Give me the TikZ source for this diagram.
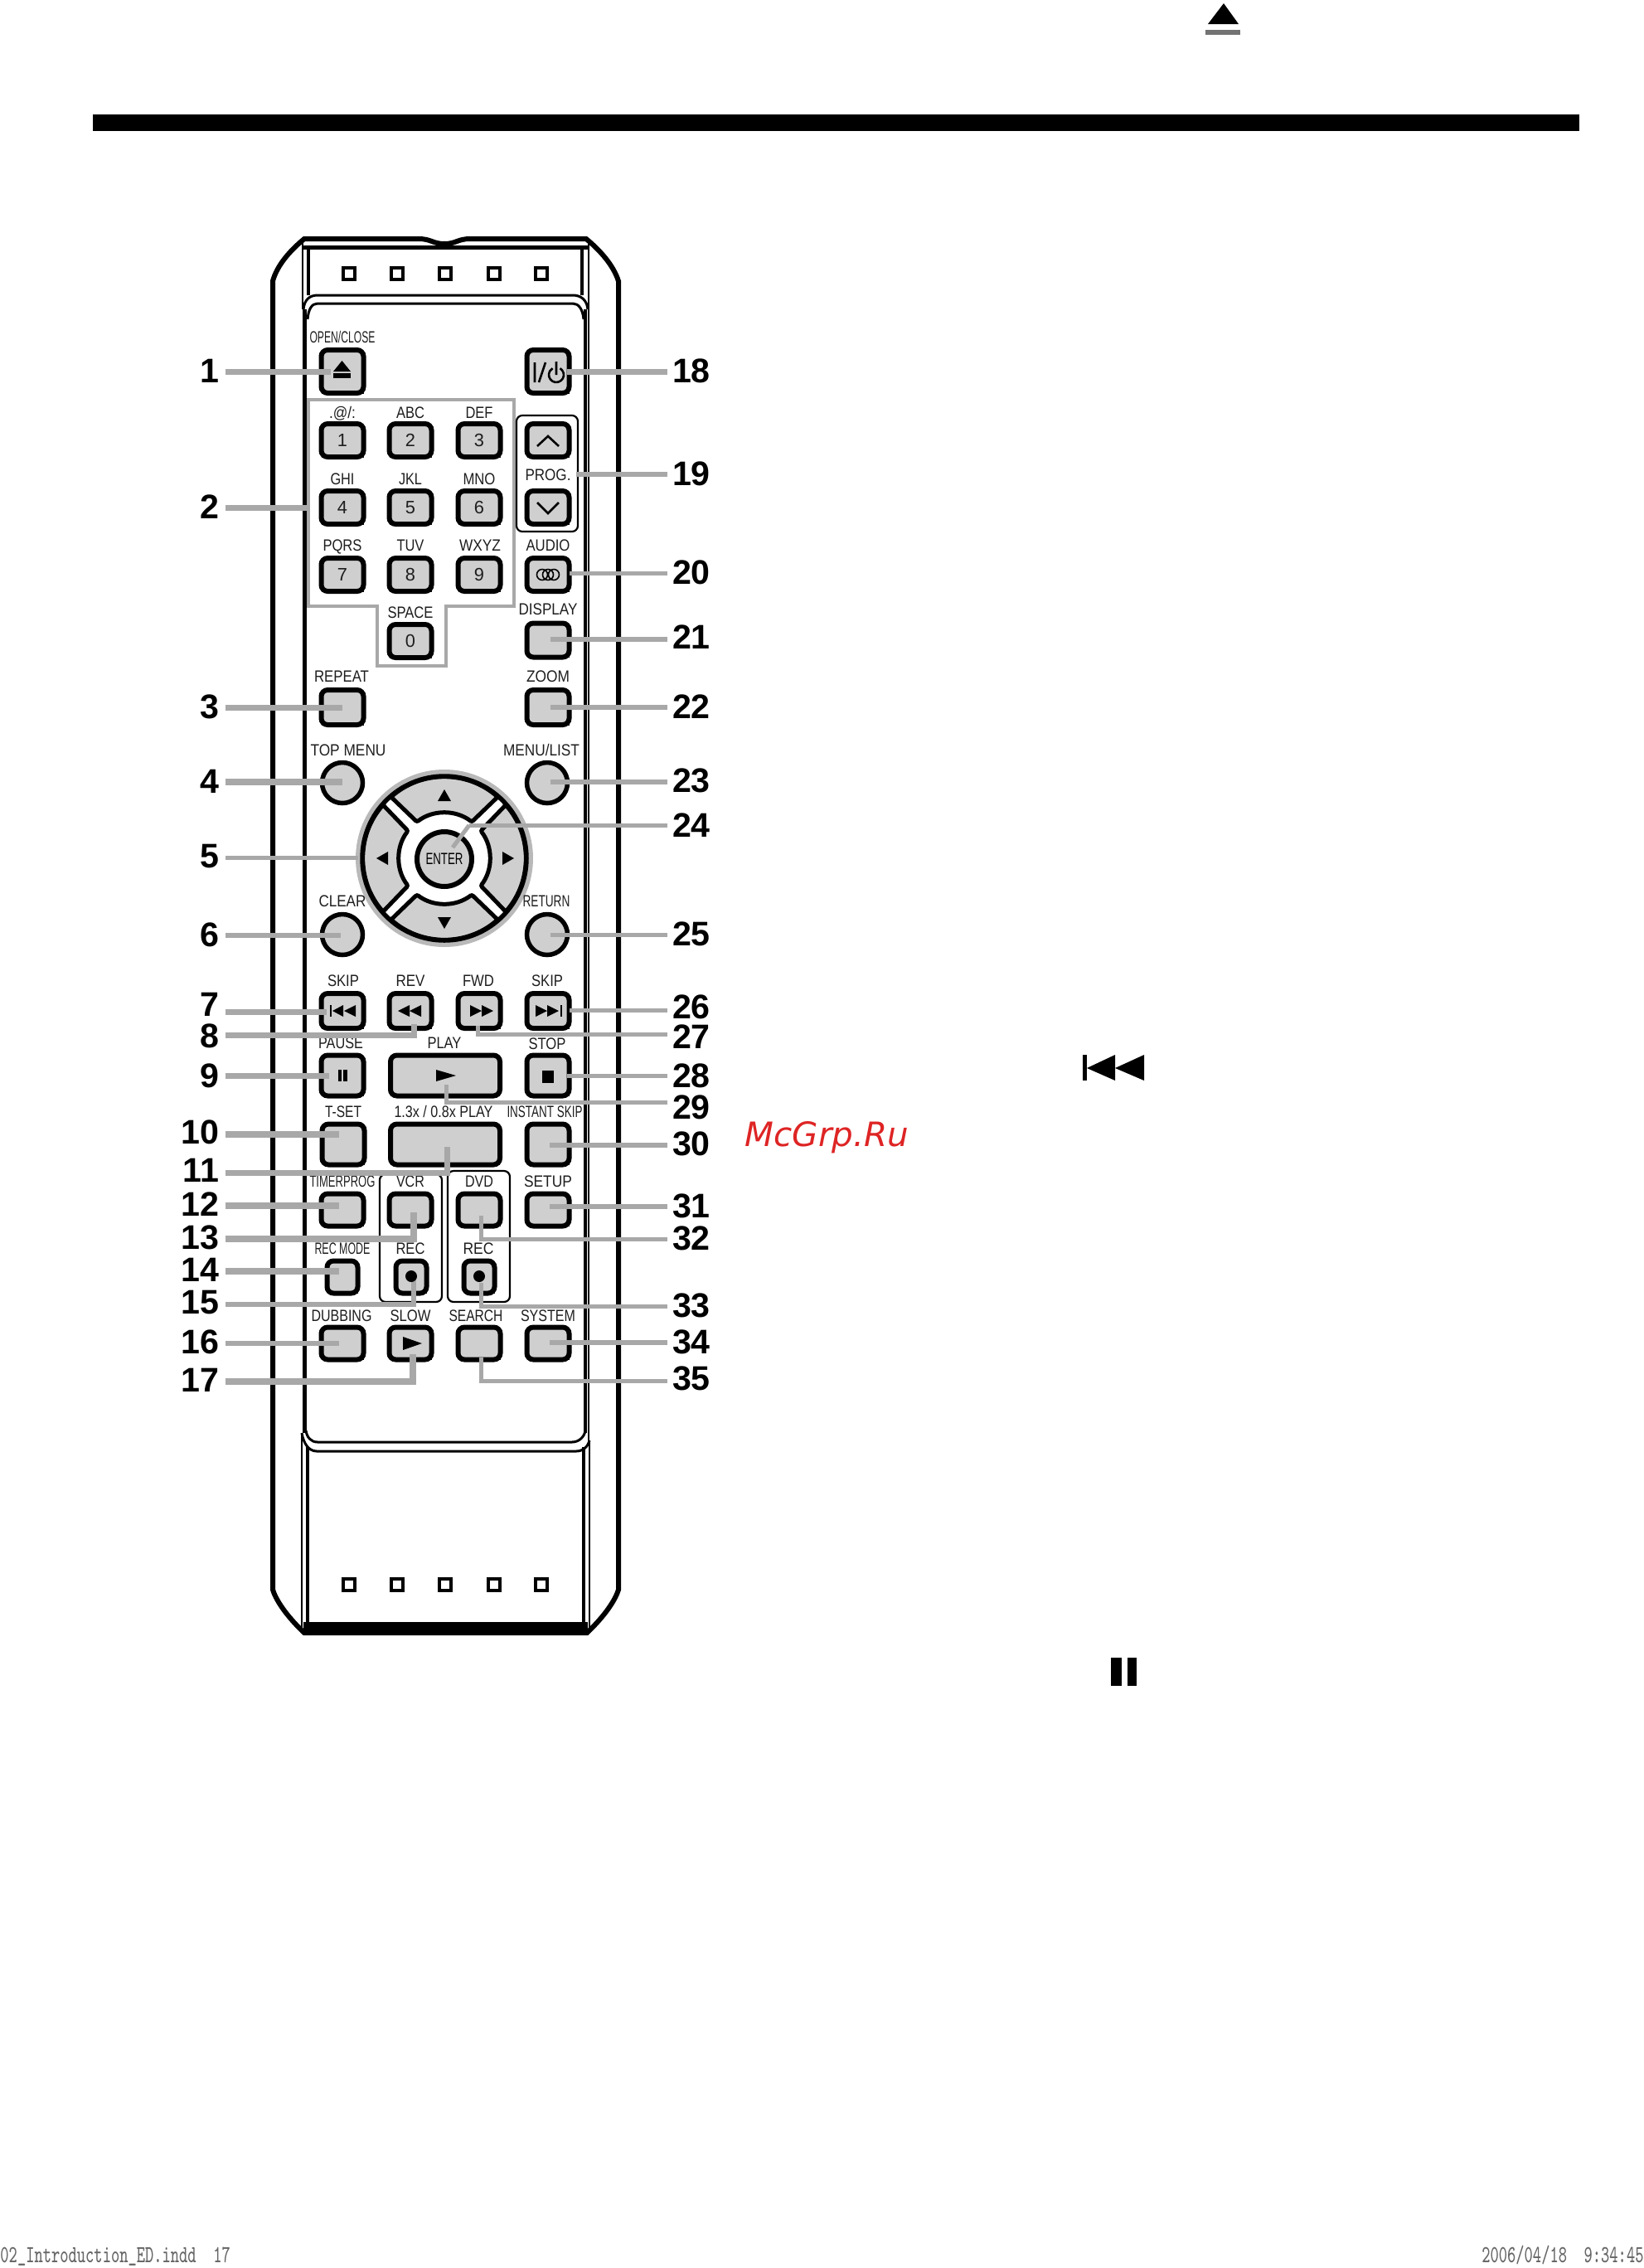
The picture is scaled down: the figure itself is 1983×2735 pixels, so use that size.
\documentclass[tikz,border=0pt]{standalone}
\usepackage{fontspec}
\setmainfont{Liberation Sans}
\newfontfamily\wmfont{DejaVu Sans}
\newdimen\unitpx
\unitpx=0.01cm
\definecolor{leadgray}{HTML}{A8A8A8}
\definecolor{keyface}{HTML}{CFCFD0}
\definecolor{textgray}{HTML}{1E1E1E}
\newcommand{\keytext}[2]{\resizebox{#1\unitpx}{13.5\unitpx}{\smash{#2}\vphantom{E}}}
\tikzset{
  shell/.style={draw=black,line width=6\unitpx},
  keybtn/.style={draw=black,fill=keyface,line width=6\unitpx,rounded corners=2.2pt,
    inner sep=0pt,text=textgray,font=\fontsize{6.2}{7}\selectfont},
  keyrim/.style={black,line width=3.5\unitpx},
  roundkey/.style={circle,draw=black,fill=keyface,line width=5.5\unitpx,
    minimum size=49\unitpx,inner sep=0pt},
  keylabel/.style={inner sep=0pt,text=textgray},
  thinbox/.style={draw=black,line width=2.2\unitpx,rounded corners=2pt},
  leader/.style={leadgray,line width=#1\unitpx},
  leader/.default=7,
  number/.style={inner sep=0pt,outer sep=6\unitpx,font=\fontsize{11.7}{13}\selectfont\bfseries},
  glyph/.style={fill=black},
  glyphline/.style={draw=black,line width=2.6\unitpx},
  led/.style={draw=black,fill=white,line width=3.8\unitpx,minimum size=13.5\unitpx,inner sep=0pt},
  footer/.style={inner sep=0pt,text=black!60,xscale=.655,transform shape,
    font=\fontsize{8.4}{10}\selectfont\ttfamily}
}
\begin{document}
\begin{tikzpicture}[x=0.01cm,y=-0.01cm]
  \useasboundingbox (0,0) rectangle (1983,2735);
  % Page furniture
  \fill[black] (112,138) rectangle (1905,158);
  \fill[glyph] (1476,4) -- (1494,29) -- (1457,29) -- cycle;
  \fill[black!55] (1454,36) rectangle (1496,42);
  \fill[glyph] (1306,1272) rectangle (1311,1303);
  \fill[glyph] (1311,1288) -- (1345,1272) -- (1345,1303) -- cycle;
  \fill[glyph] (1345,1288) -- (1380,1272) -- (1380,1303) -- cycle;
  \fill[glyph] (1340,1999) rectangle (1353,2033);
  \fill[glyph] (1360,1999) rectangle (1371,2033);
  \node[inner sep=0pt,anchor=base west,text={rgb,255:red,222;green,36;blue,36},
        font=\wmfont\itshape\fontsize{11.5}{13}\selectfont] (mcgrp) at (898,1382) {McGrp.Ru};
  \node[footer,anchor=base west] (slugleft) at (0,2728) {02\string_Introduction\string_ED.indd\ \ 17};
  \node[footer,anchor=base east] (slugright) at (1983,2728) {2006/04/18\ \ 9:34:45};
  % Draw remote body
  \draw[shell] (329,339) .. controls (334,320) and (350,302) .. (367,288)
        -- (505,288) .. controls (520,288) and (522,294) .. (536,294)
        .. controls (550,294) and (552,288) .. (567,288) -- (707,288)
        .. controls (724,302) and (740,320) .. (746,339) -- (746,1917)
        .. controls (741,1933) and (725,1953) .. (708,1969) -- (367,1969)
        .. controls (350,1953) and (334,1933) .. (329,1917) -- cycle;
  % Draw top compartment
  \draw[line width=1.6\unitpx] (365,288) -- (365,373);
  \draw[line width=1.6\unitpx] (710,288) -- (710,373);
  \draw[line width=3.5\unitpx] (372,298) -- (372,356);
  \draw[line width=3.5\unitpx] (702,298) -- (702,356);
  \draw[line width=5\unitpx] (366,298) -- (709,298);
  \draw[line width=3\unitpx] (366,373) .. controls (367,362) and (373,356) .. (383,356)
        -- (691,356) .. controls (701,356) and (708,362) .. (709,373);
  % Draw panel
  \draw[line width=3\unitpx] (371,385) .. controls (372,373) and (376,366) .. (383,366)
        -- (691,366) .. controls (698,366) and (703,373) .. (704,385);
  \draw[line width=5\unitpx] (367,373) -- (367,1728);
  \draw[line width=3.5\unitpx] (706,373) -- (706,1728);
  \draw[line width=1.6\unitpx] (710,373) -- (710,1737);
  \draw[line width=3\unitpx] (369,1725) .. controls (370,1733) and (375,1739) .. (383,1739)
        -- (690,1739) .. controls (698,1739) and (705,1733) .. (706,1725);
  \draw[line width=3\unitpx] (364,1728) .. controls (366,1740) and (372,1750) .. (382,1750)
        -- (695,1750) .. controls (703,1750) and (709,1745) .. (711,1737);
  % Draw bottom compartment
  \draw[line width=1.6\unitpx] (364,1728) -- (364,1966);
  \draw[line width=3.5\unitpx] (371,1745) -- (371,1960);
  \draw[line width=3.5\unitpx] (704,1745) -- (704,1960);
  \draw[line width=1.6\unitpx] (711,1737) -- (711,1966);
  \fill[black] (366,1956) rectangle (709,1970);
  % Draw indicators
  \foreach \lx/\lname in {421/a,479/b,537/c,596/d,653/e} {
    \node[led] (ledtop\lname) at (\lx,330) {};
    \node[led] (ledbot\lname) at (\lx,1911) {};
  }
  % Draw square keys
  \foreach \kname/\kx/\ky/\kw/\kh/\kt in {
    open/413/448/57/58/,power/661/448/57/58/,
    one/413/531/57/46/1,two/495/531/57/46/2,three/578/531/57/46/3,
    four/413/612/57/46/4,five/495/612/57/46/5,six/578/612/57/46/6,
    seven/413/693/57/46/7,eight/495/693/57/46/8,nine/578/693/57/46/9,zero/495/773/57/46/0,
    progup/661/531/57/46/,progdn/661/612/57/46/,audio/661/693/57/46/,
    display/661/772/57/47/,repeat/413/853/57/48/,zoom/661/853/57/48/,
    skipb/413/1219/57/48/,rev/495/1219/57/48/,fwd/578/1219/57/48/,skipf/661/1219/57/48/,
    pause/413/1297/57/55/,play/537/1297/138/55/,stop/661/1297/57/55/,
    tset/414/1380/57/55/,speed/537/1380/138/55/,instant/661/1380/57/55/,
    timer/413/1459/57/45/,vcr/495/1459/57/45/,dvd/578/1459/57/45/,setup/661/1459/57/45/,
    recmode/413/1540/43/45/,recv/496/1540/43/45/,recd/578/1540/43/45/,
    dubbing/413/1620/57/45/,slow/495/1620/57/45/,search/578/1620/57/45/,system/661/1620/57/45/%
  } {
    \node[keybtn,minimum width={(\kw-6)*0.01cm},minimum height={(\kh-6)*0.01cm}]
      (\kname) at (\kx,\ky) {\kt};
    \draw[keyrim] ([shift={(3,-4)}]\kname.south west) -- ([shift={(-3,-4)}]\kname.south east);
  }
  % Draw round keys
  \node[roundkey] (topmenu) at (413,944) {};
  \node[roundkey] (menulist) at (660,944) {};
  \node[roundkey] (clear) at (413,1127) {};
  \node[roundkey] (return) at (660,1127) {};
  % Draw cursor ring
  \begin{scope}[shift={(536,1035)},yscale=-1]
    \fill[leadgray!80] (0,0) circle (107);
    \fill[white] (0,0) circle (101);
    \foreach \a in {0,90,180,270} {
      \begin{scope}[rotate=\a]
        \filldraw[fill=keyface,draw=black,line width=5\unitpx,rounded corners=0.6pt]
          (49:98) arc (49:131:98) -- (127:55) arc (127:53:55) -- cycle;
      \end{scope}
    }
    \draw[line width=5.5\unitpx] (0,0) circle (99);
  \end{scope}
  \node[circle,draw=black,fill=keyface,line width=6\unitpx,minimum size=66\unitpx,inner sep=0pt]
    (enter) at (536,1036) {\keytext{45}{ENTER}};
  \fill[glyph] (536,952) -- (544,966) -- (528,966) -- cycle;
  \fill[glyph] (536,1120) -- (544,1106) -- (528,1106) -- cycle;
  \fill[glyph] (454,1035) -- (468,1027) -- (468,1043) -- cycle;
  \fill[glyph] (620,1035) -- (606,1027) -- (606,1043) -- cycle;
  % Draw group outlines
  \draw[leadgray,line width=4.5\unitpx] (372,482) -- (620,482) -- (620,731) -- (538,731)
        -- (538,803) -- (455,803) -- (455,731) -- (372,731) -- cycle;
  \draw[thinbox] (623,501) rectangle (697,641);
  \draw[thinbox] (458,1416) rectangle (533,1570);
  \draw[thinbox] (540,1412) rectangle (615,1570);
  % Draw key captions
  \foreach \tname/\tx/\ty/\tw/\tt in {
    open/413/407/79/{OPEN/CLOSE},at/413/498/32/{.@/:},abc/495/498/34/ABC,def/578/498/33/DEF,
    ghi/413/578/29/GHI,jkl/495/578/28/JKL,mno/578/578/39/MNO,
    pqrs/413/658/47/PQRS,tuv/495/658/33/TUV,wxyz/579/658/50/WXYZ,audio/661/658/53/AUDIO,
    prog/661/573/55/PROG.,space/495/739/55/SPACE,display/661/735/71/DISPLAY,
    repeat/412/816/66/REPEAT,zoom/661/816/52/ZOOM,
    topmenu/420/905/91/{TOP MENU},menulist/653/905/92/{MENU/LIST},
    clear/413/1087/57/CLEAR,return/659/1087/57/RETURN,
    skipb/414/1183/38/SKIP,rev/495/1183/35/REV,fwd/577/1183/38/FWD,skipf/660/1183/38/SKIP,
    pause/411/1258/54/PAUSE,play/536/1258/41/PLAY,stop/660/1259/45/STOP,
    tset/414/1341/44/T-SET,speed/535/1341/119/{1.3x / 0.8x PLAY},instant/657/1341/91/{INSTANT SKIP},
    timer/413/1425/79/{TIMERPROG},vcr/495/1425/34/VCR,dvd/578/1425/34/DVD,setup/661/1425/58/SETUP,
    recmode/413/1506/67/{REC MODE},recv/495/1506/35/REC,recd/577/1506/37/REC,
    dubbing/412/1587/73/DUBBING,slow/495/1587/49/SLOW,search/574/1587/65/SEARCH,system/661/1587/66/SYSTEM%
  } {
    \node[keylabel] (cap\tname) at (\tx,\ty) {\keytext{\tw}{\tt}};
  }
  % Draw left numbers and leaders
  \foreach \n/\ny/\ly/\ex/\ey/\lw in {
    1/447/448/399/448/7,2/611/612/372/612/7,3/852/853/413/853/7,4/942/943/413/943/8,
    5/1033/1034/432/1034/5,6/1127/1128/411/1128/6.5,7/1211/1220/394/1220/7,
    8/1249/1248/499/1235/7,9/1297/1297/397/1297/7,10/1365/1368/409/1368/8,
    11/1411/1414/539/1383/7,12/1452/1454/409/1454/8,13/1492/1494/499/1462/8,
    14/1531/1533/409/1533/8,15/1571/1573/499/1543/6,16/1618/1620/409/1620/6,
    17/1664/1666/498/1633/8%
  } {
    \node[number,outer sep=8\unitpx,anchor=east] (n\n) at (272,\ny) {\n};
    \coordinate (k\n) at (\ex,\ly);
    \coordinate (e\n) at (\ex,\ey);
    \draw[leader=\lw] (n\n.east |- k\n) -- (k\n) -- (e\n);
  }
  % Draw right numbers and leaders
  \foreach \n/\ny/\ly/\ex/\ey/\lw in {
    18/447/448/684/448/7,19/571/572/695/572/5.5,20/690/691/687/691/5,21/768/771/664/771/6,
    22/852/853/664/853/6,23/941/943/664/943/6,24/995/995/566/995/5,25/1126/1127/664/1127/5,
    26/1214/1218/687/1218/5,27/1250/1247/576/1237/5,28/1297/1297/684/1297/5,
    29/1335/1329/538/1308/5,30/1379/1381/663/1381/6,31/1454/1455/663/1455/6,
    32/1493/1494/580/1466/5,33/1574/1575/580/1547/5,34/1618/1619/663/1619/6,35/1662/1665/580/1637/5%
  } {
    \node[number,anchor=west] (n\n) at (805,\ny) {\n};
    \coordinate (k\n) at (\ex,\ly);
    \coordinate (e\n) at (\ex,\ey);
    \draw[leader=\lw] (n\n.west |- k\n) -- (k\n) -- (e\n);
  }
  \coordinate (f24) at (546,1022);
  \draw[leader=5] (e24) -- (f24);
  % Draw key symbols
  \fill[glyph] (412.5,435) -- (423,448) -- (402,448) -- cycle;
  \fill[glyph] (402,450) rectangle (423,456);
  \draw[glyphline] (645,437) -- (645,461) (650,461) -- (658,437) (671,436) -- (671,452);
  \draw[glyphline] (675.5,444.2) arc (-60:240:9);
  \draw[glyphline] (648,538) -- (661,526) -- (674,538);
  \draw[glyphline] (648,606) -- (661,619) -- (674,606);
  \draw[line width=1.6\unitpx] (654,693) circle (6.5) (661,693) circle (6.5) (668,693) circle (6.5);
  \fill[glyph] (398,1212) rectangle (400,1226);
  \fill[glyph] (401,1219) -- (414,1212) -- (414,1226) -- cycle;
  \fill[glyph] (415,1219) -- (429,1212) -- (429,1226) -- cycle;
  \fill[glyph] (480,1219) -- (494,1212) -- (494,1226) -- cycle;
  \fill[glyph] (494,1219) -- (508,1212) -- (508,1226) -- cycle;
  \fill[glyph] (567,1212) -- (581,1219) -- (567,1226) -- cycle;
  \fill[glyph] (581,1212) -- (595,1219) -- (581,1226) -- cycle;
  \fill[glyph] (646,1212) -- (660,1219) -- (646,1226) -- cycle;
  \fill[glyph] (660,1212) -- (674,1219) -- (660,1226) -- cycle;
  \fill[glyph] (676,1212) rectangle (678,1226);
  \fill[glyph] (407.5,1290) rectangle (412,1304);
  \fill[glyph] (414,1290) rectangle (418.5,1304);
  \fill[glyph] (526,1290) -- (550,1297) -- (526,1304) -- cycle;
  \fill[glyph] (654,1291) rectangle (668,1306);
  \fill[glyph] (496,1539) circle (7);
  \fill[glyph] (578,1539) circle (7);
  \fill[glyph] (486,1612) -- (509,1620) -- (486,1628) -- cycle;
\end{tikzpicture}
\end{document}
